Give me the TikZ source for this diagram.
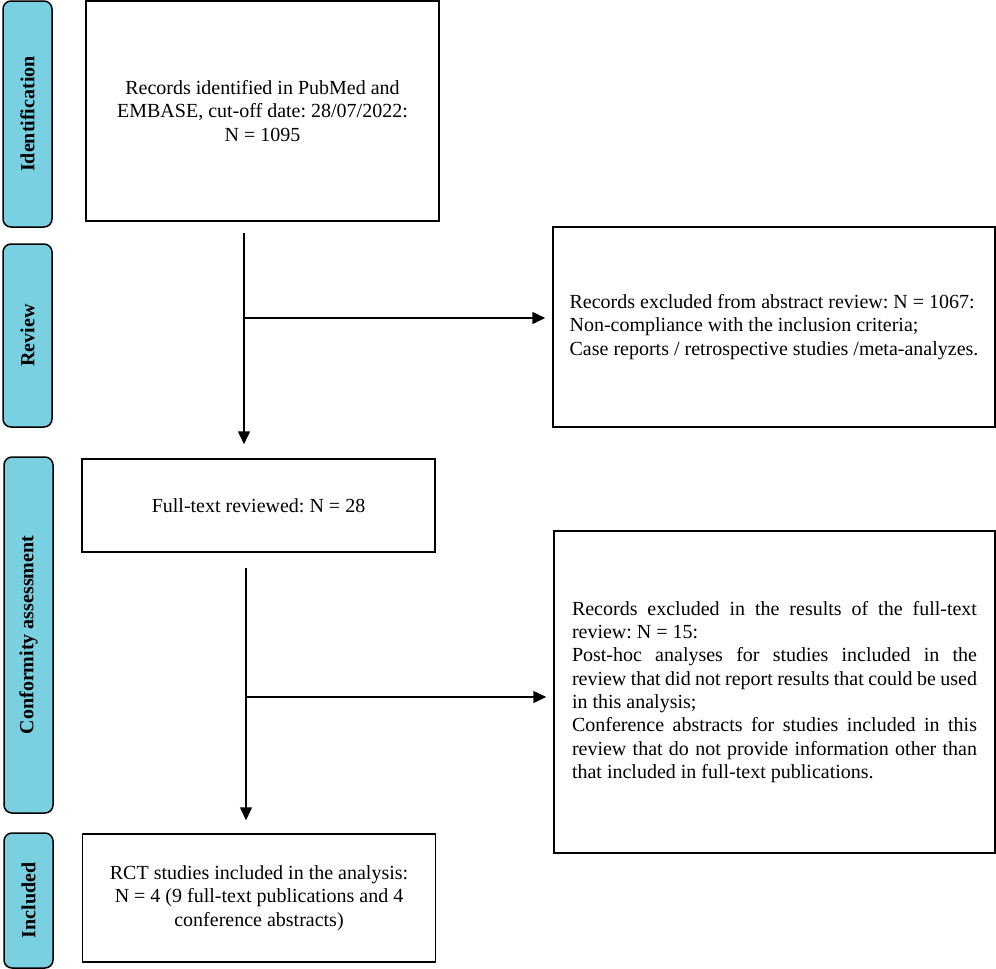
\documentclass[tikz,border=0pt]{standalone}
\usepackage{fontspec}
\setmainfont{Liberation Serif}
\usetikzlibrary{arrows.meta,positioning}
\definecolor{stagecyan}{RGB}{121,208,224}
\newcommand{\jline}[1]{\hbox to 405pt{\spaceskip=5pt plus 12pt minus 2pt\relax #1}}
\frenchspacing

\begin{document}
\begin{tikzpicture}[x=1pt,y=-1pt,
		stage/.style={draw, line width=1.5pt, fill=stagecyan, rounded corners=8pt, rotate=90, minimum height=49pt, inner sep=0pt, font=\fontsize{20}{24}\selectfont\bfseries},
		box/.style={draw, line width=1.5pt, inner sep=0pt, font=\fontsize{20}{23.3}\selectfont},
		arr/.style={-{Triangle[length=13pt,width=12pt]}, line width=1.5pt}]
		\useasboundingbox (0,0) rectangle (996,969);

		% stages
		\draw (27.5,114) node [stage, minimum width=226pt] (idbar) {Identification};
		\draw (27.5,335.5) node [stage, minimum width=183pt] (revbar) {Review};
		\draw (28.5,635) node [stage, minimum width=356pt] (confbar) {Conformity assessment};
		\draw (28.5,900.5) node [stage, minimum width=135pt] (inclbar) {Included};

		% boxes
		\draw (262.5,111) node [box, minimum width=353pt, minimum height=220pt, align=center] (ident) {Records identified in PubMed and\\EMBASE, cut-off date: 28/07/2022:\\N = 1095};
		\draw (774,327) node [box, minimum width=442pt, minimum height=200pt, align=left] (revex) {Records excluded from abstract review: N = 1067:\\Non-compliance with the inclusion criteria;\\Case reports / retrospective studies /meta-analyzes.};
		\draw (258.5,505.5) node [box, minimum width=353pt, minimum height=93pt, align=center] (full) {Full-text reviewed: N = 28};
		\draw (774.5,692) node [box, minimum width=441pt, minimum height=322pt, align=left] (confex) {\jline{Records excluded in the results of the full-text}\\review: N = 15:\\\jline{Post-hoc analyses for studies included in the}\\\jline{review that did not report results that could be used}\\in this analysis;\\\jline{Conference abstracts for studies included in this}\\\jline{review that do not provide information other than}\\that included in full-text publications.};
		\draw (259,898) node [box, minimum width=353pt, minimum height=128pt, align=center] (incl) {RCT studies included in the analysis:\\N = 4 (9 full-text publications and 4\\conference abstracts)};

		% arrows
		\coordinate (s1) at (244,233);
		\coordinate (b1) at (244,318);
		\coordinate (s2) at (246,568);
		\coordinate (b2) at (246,697);

		\draw
		(s1) edge [arr, shorten >=14pt] (s1 |- full.north)
		(b1) edge [arr, shorten >=7pt] (b1 -| revex.west)
		(s2) edge [arr, shorten >=13pt] (s2 |- incl.north)
		(b2) edge [arr, shorten >=7pt] (b2 -| confex.west);
		;
	\end{tikzpicture}
\end{document}
